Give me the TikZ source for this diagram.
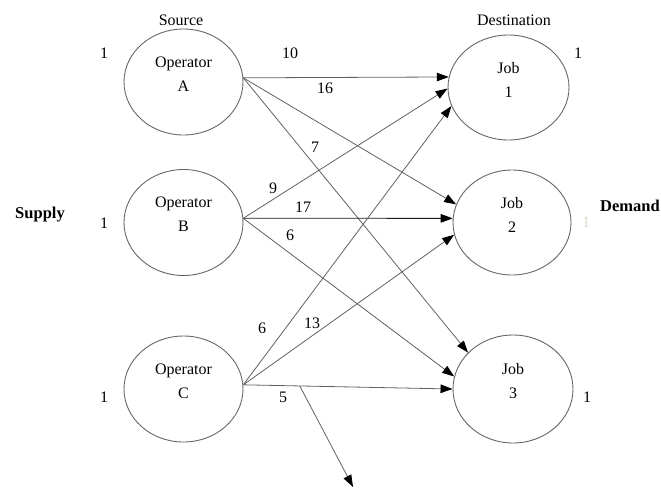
\documentclass[tikz,border=0pt]{standalone}
\usepackage{fontspec}
\setmainfont{Liberation Serif}
\usetikzlibrary{shapes.geometric,arrows.meta,calc}
\begin{document}
\begin{tikzpicture}[x=1pt,y=-1pt,
  font=\fontsize{16}{24}\selectfont,
  oval/.style={ellipse,draw=black!60,line width=0.9pt,minimum width=119pt,minimum height=106pt,inner sep=0pt},
  inlabel/.style={align=center,yshift=8pt},
  txt/.style={inner sep=0pt},
  flow/.style={draw=black!62,line width=0.8pt,-{Triangle[length=12pt,width=8.5pt,black]}},
  strong/.style={flow,draw=black!90}
]
\useasboundingbox (0,0) rectangle (661,490);

% headings
\node[txt] (src) at (181,20) {Source};
\node[txt] (dst) at (514,20) {Destination};
\node[txt,font=\fontsize{16.5}{20}\selectfont\bfseries] (sup) at (40,215) {Supply};
\node[txt,font=\fontsize{16.5}{20}\selectfont\bfseries] (dem) at (630,206) {Demand};

% sources
\node[oval] (opA) at (183.5,82) {};
\node[inlabel] (tA) at (opA.center) {Operator\\A};
\node[oval] (opB) at (183.5,222.5) {};
\node[inlabel] (tB) at (opB.center) {Operator\\B};
\node[oval] (opC) at (183.5,389) {};
\node[inlabel] (tC) at (opC.center) {Operator\\C};

% destinations
\node[oval,minimum width=121pt,minimum height=105pt] (job1) at (508.5,87.5) {};
\node[inlabel] (tJ1) at (job1.center) {Job\\1};
\node[oval,minimum width=118pt,minimum height=105pt] (job2) at (512,222.5) {};
\node[inlabel] (tJ2) at (job2.center) {Job\\2};
\node[oval,minimum width=120pt,minimum height=108pt] (job3) at (513,389) {};
\node[inlabel] (tJ3) at (job3.center) {Job\\3};

% supply / demand values
\node[txt] (sA) at (104,53) {1};
\node[txt] (sB) at (104,223) {1};
\node[txt] (sC) at (104,397) {1};
\node[txt] (d1) at (578,53) {1};
\node[txt,text=yellow!35!black!25] (d2) at (586,222) {1};
\node[txt] (d3) at (587,397) {1};

% arcs
\draw[flow] (opA.4) -- (job1.170);
\draw[flow] (opA.4) -- (job2.162);
\draw[flow] (opA.4) -- (job3.141);
\draw[flow] (opB.4) -- (job1.181);
\draw[strong] (opB.4) -- (job2.176);
\draw[flow] (opB.4) -- (job3.168);
\draw[flow] (opC.4) -- (job1.198);
\draw[flow] (opC.4) -- (job2.192);
\draw[flow] (opC.4) -- (job3.180);

\coordinate (c5) at ($(opC.4)!0.27!(job3.180)$);
\coordinate (bot) at (353,487);
\draw[flow] (c5) -- (bot);

% costs
\node[txt] (k10) at (290,53) {10};
\node[txt] (k16) at (325,88) {16};
\node[txt] (k7) at (315,147) {7};
\node[txt] (k9) at (273,188) {9};
\node[txt] (k17) at (303,207) {17};
\node[txt] (k6b) at (290,235) {6};
\node[txt] (k6c) at (262,328) {6};
\node[txt] (k13) at (312,323) {13};
\node[txt] (k5) at (283,397) {5};
\end{tikzpicture}
\end{document}
